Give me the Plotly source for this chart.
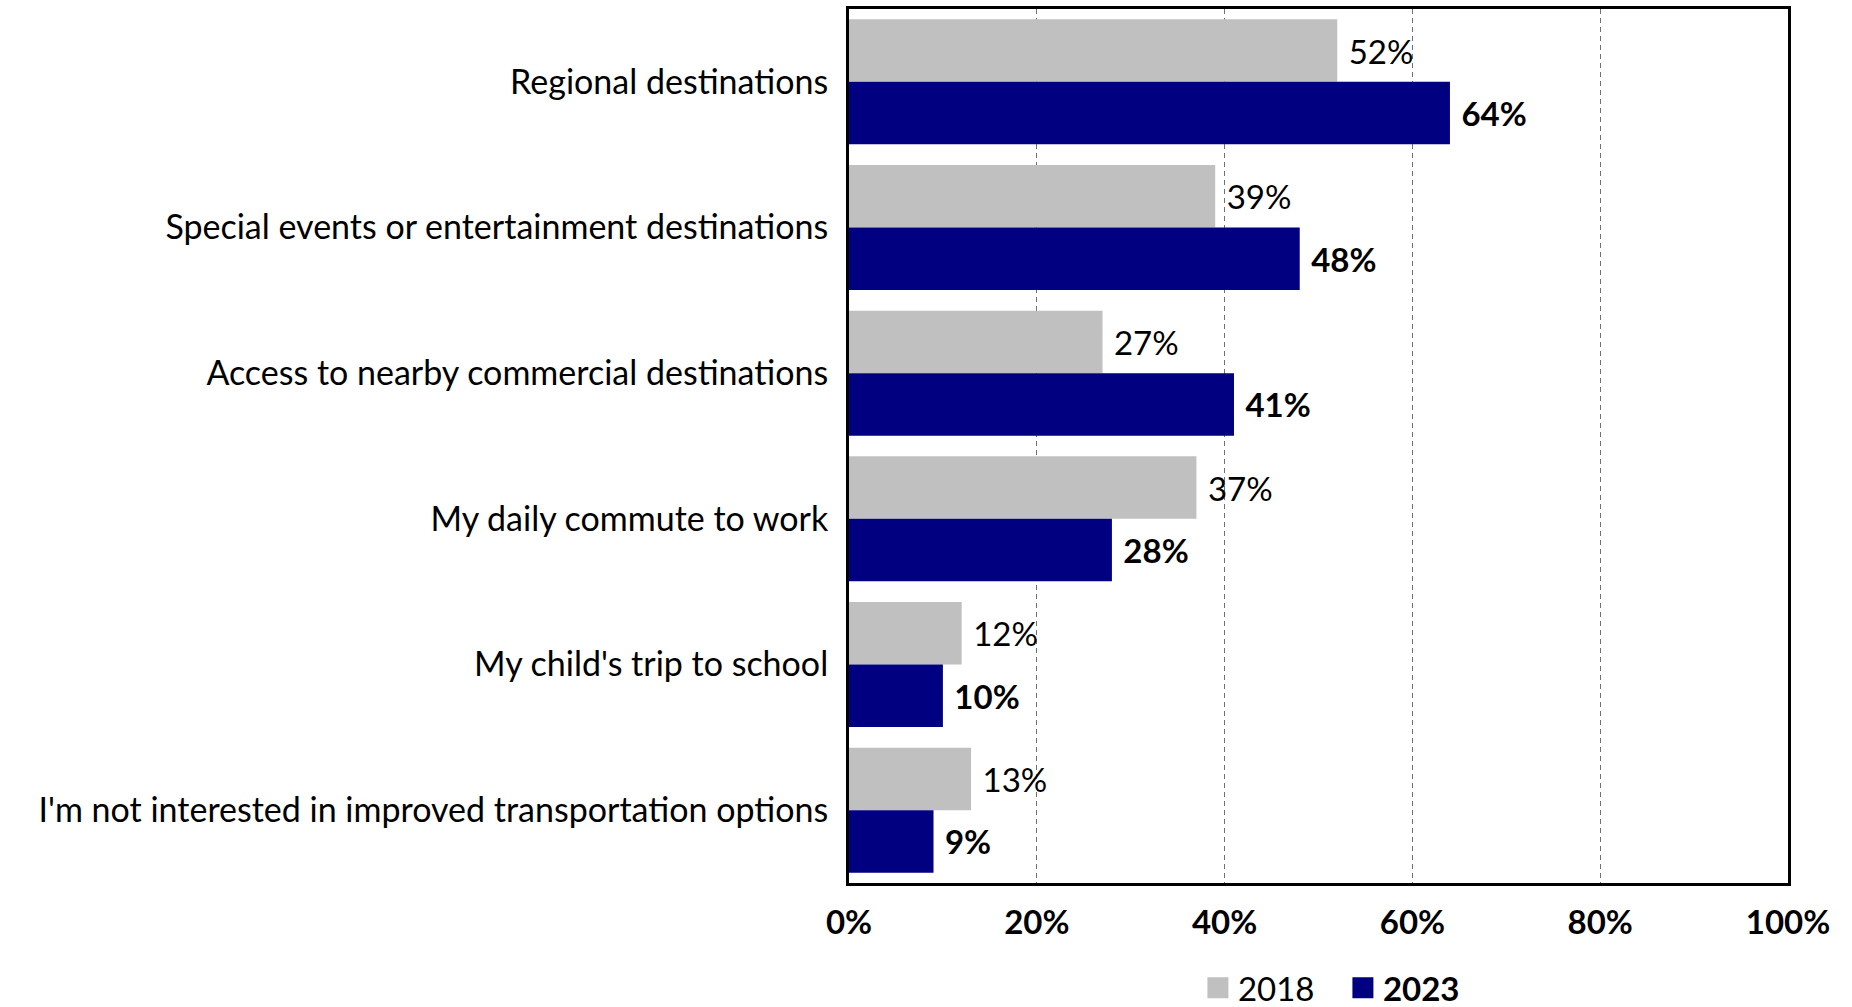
import plotly.graph_objects as go

categories = [
    "Regional destinations",
    "Special events or entertainment destinations",
    "Access to nearby commercial destinations",
    "My daily commute to work",
    "My child's trip to school",
    "I'm not interested in improved transportation options",
]
values_2018 = [52, 39, 27, 37, 12, 13]
values_2023 = [64, 48, 41, 28, 10, 9]
x_ticks = [0, 20, 40, 60, 80, 100]
x_tick_labels = ["0%", "20%", "40%", "60%", "80%", "100%"]

COLOR_2018 = "#c0c0c0"
COLOR_2023 = "#000080"
FONT = "Lato, 'Open Sans', sans-serif"
NB = "\u00a0"

fig = go.Figure()
fig.add_trace(go.Bar(
    y=categories, x=values_2018, orientation="h", name="2018", showlegend=False,
    marker=dict(color=COLOR_2018, line=dict(width=0)),
    text=[f"{NB}{v}%" for v in values_2018], textposition="outside",
    textfont=dict(family=FONT, size=33, color="black"), cliponaxis=False,
))
fig.add_trace(go.Bar(
    y=categories, x=values_2023, orientation="h", name="2023", showlegend=False,
    marker=dict(color=COLOR_2023, line=dict(width=0)),
    text=[f"{NB}<b>{v}%</b>" for v in values_2023], textposition="outside",
    textfont=dict(family=FONT, size=33, color="black"), cliponaxis=False,
))
# legend entries (block swatches like the original)
fig.add_trace(go.Scatter(x=[None], y=[None], mode="markers", name="2018",
                         marker=dict(symbol="square", color=COLOR_2018, size=16,
                                     line=dict(color=COLOR_2018, width=5)),
                         showlegend=True))
fig.add_trace(go.Scatter(x=[None], y=[None], mode="markers", name="<b>2023</b>",
                         marker=dict(symbol="square", color=COLOR_2023, size=16,
                                     line=dict(color=COLOR_2023, width=5)),
                         showlegend=True))

fig.update_layout(
    width=1852, height=1007,
    margin=dict(l=849, r=64, t=9, b=124, pad=0, autoexpand=False),
    barmode="group", bargap=0.142, bargroupgap=0,
    plot_bgcolor="white", paper_bgcolor="white",
    font=dict(family=FONT, size=33, color="black"),
    showlegend=True,
    legend=dict(orientation="h", xref="paper", x=0.526, xanchor="center",
                yref="container", y=0.019, yanchor="middle",
                font=dict(family=FONT, size=33, color="black"),
                itemwidth=30, itemsizing="trace", traceorder="normal",
                entrywidth=100, entrywidthmode="pixels",
                bgcolor="rgba(0,0,0,0)"),
)
fig.update_xaxes(
    range=[0, 100], tickvals=x_ticks, ticktext=x_tick_labels,
    tickfont=dict(family=FONT, size=33, color="black", weight="bold"),
    showgrid=True, gridcolor="#707070", griddash="5px,4px", gridwidth=1.3,
    showline=True, linecolor="black", linewidth=3, mirror=True,
    ticks="", ticklabelstandoff=8, zeroline=False, fixedrange=True,
)
fig.update_yaxes(
    autorange="reversed", tickfont=dict(family=FONT, size=34, color="black"),
    showline=True, linecolor="black", linewidth=3, mirror=True,
    ticks="", ticklabelstandoff=11, showgrid=False, fixedrange=True,
)

fig.write_html("out.html", config={"displayModeBar": False},
               post_script="document.body.style.margin='0px';document.body.style.padding='0px';")
